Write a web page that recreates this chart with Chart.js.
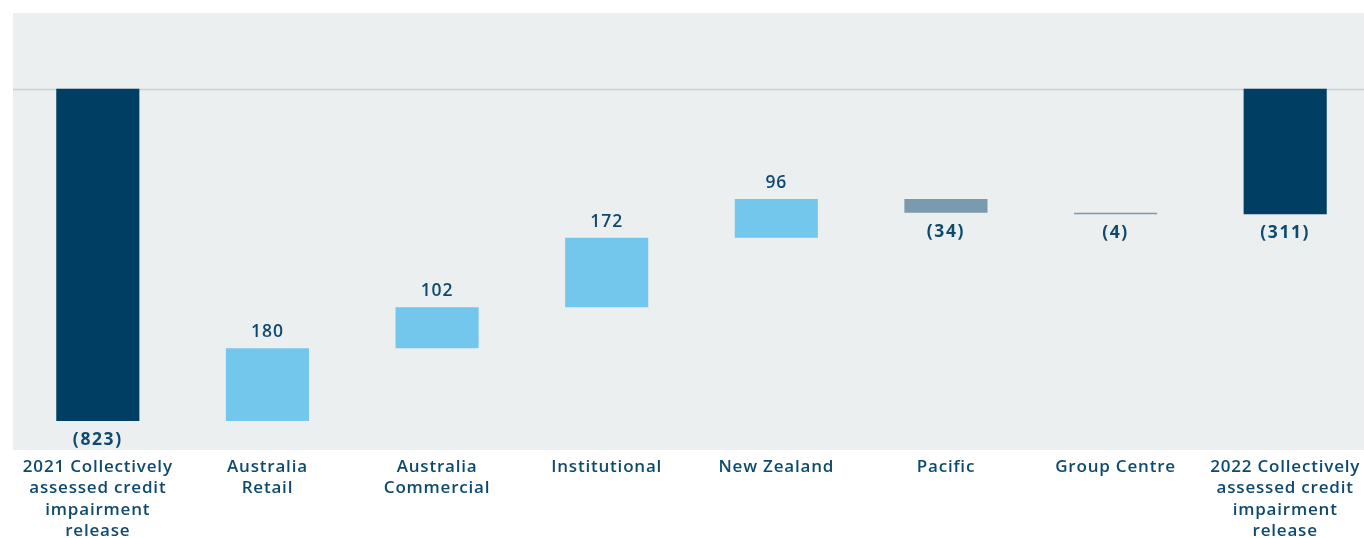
<!DOCTYPE html>
<html>
<head>
<meta charset="utf-8">
<script src="https://cdn.jsdelivr.net/npm/chart.js@4"></script>
<style>
  html, body { margin: 0; padding: 0; background: #ffffff; overflow: hidden; }
  #wrap { width: 1370px; height: 538px; position: relative; }
</style>
</head>
<body>
<div id="wrap"><canvas id="c"></canvas></div>
<script>
const categories = [
  ["2021 Collectively", "assessed credit", "impairment", "release"],
  ["Australia", "Retail"],
  ["Australia", "Commercial"],
  ["Institutional"],
  ["New Zealand"],
  ["Pacific"],
  ["Group Centre"],
  ["2022 Collectively", "assessed credit", "impairment", "release"]
];
const changes = [-823, 180, 102, 172, 96, -34, -4, -311];
const isTotal = [true, false, false, false, false, false, false, true];
const valueLabels = ["(823)", "180", "102", "172", "96", "(34)", "(4)", "(311)"];
const yMin = -895, yMax = 188;

const NAVY = "#003f63", LIGHT = "#73c6ec", GREYBLUE = "#7b9aae", TEXT = "#0f4a6e";

let running = 0;
const ranges = changes.map((v, i) => {
  if (isTotal[i]) { running = v; return [0, v]; }
  const start = running; running += v; return [start, running];
});
const colors = changes.map((v, i) => isTotal[i] ? NAVY : (v >= 0 ? LIGHT : GREYBLUE));

const FONT = "'Open Sans', 'DejaVu Sans', sans-serif";

const bgPlugin = {
  id: 'bg',
  beforeLayout(chart) { chart.ctx.letterSpacing = "0.8px"; },
  beforeDraw(chart) {
    const { ctx, chartArea: a, scales } = chart;
    ctx.letterSpacing = "0.8px";
    ctx.save();
    ctx.fillStyle = "#ebeff0";
    ctx.fillRect(a.left, a.top, a.right - a.left, a.bottom - a.top);
    const y0 = Math.round(scales.y.getPixelForValue(0)) + 0.5;
    ctx.strokeStyle = "#c6d1d6";
    ctx.lineWidth = 1.5;
    ctx.beginPath(); ctx.moveTo(a.left, y0); ctx.lineTo(a.right, y0); ctx.stroke();
    ctx.restore();
  },
  afterDatasetsDraw(chart) {
    const { ctx } = chart;
    const meta = chart.getDatasetMeta(0);
    ctx.save();
    ctx.fillStyle = TEXT;
    ctx.textAlign = "center";
    ctx.textBaseline = "middle";
    meta.data.forEach((bar, i) => {
      const neg = changes[i] < 0;
      ctx.font = (neg ? "700 " : "600 ") + "17.5px " + FONT;
      ctx.letterSpacing = neg ? "1.6px" : "0.9px";
      const top = Math.min(bar.y, bar.base), bottom = Math.max(bar.y, bar.base);
      const y = neg ? bottom + 19 : top - 16;
      ctx.fillText(valueLabels[i], bar.x, y);
    });
    ctx.restore();
  }
};

new Chart(document.getElementById('c'), {
  type: 'bar',
  data: {
    labels: categories,
    datasets: [{
      data: ranges,
      backgroundColor: colors,
      borderWidth: 0,
      borderSkipped: false,
      categoryPercentage: 0.49,
      barPercentage: 1.0
    }]
  },
  options: {
    responsive: true,
    maintainAspectRatio: false,
    animation: false,
    layout: { padding: { top: 13, left: 13, right: 0, bottom: 0 } },
    plugins: { legend: { display: false }, tooltip: { enabled: false } },
    scales: {
      x: {
        grid: { display: false, drawTicks: false },
        border: { display: false },
        ticks: {
          color: TEXT,
          font: { family: FONT, size: 17, weight: '600', lineHeight: 1.24 },
          padding: 7,
          maxRotation: 0,
          autoSkip: false
        },
        afterFit(scale) { scale.height = 88; }
      },
      y: {
        display: false,
        min: yMin,
        max: yMax
      }
    }
  },
  plugins: [bgPlugin]
});
</script>
</body>
</html>
